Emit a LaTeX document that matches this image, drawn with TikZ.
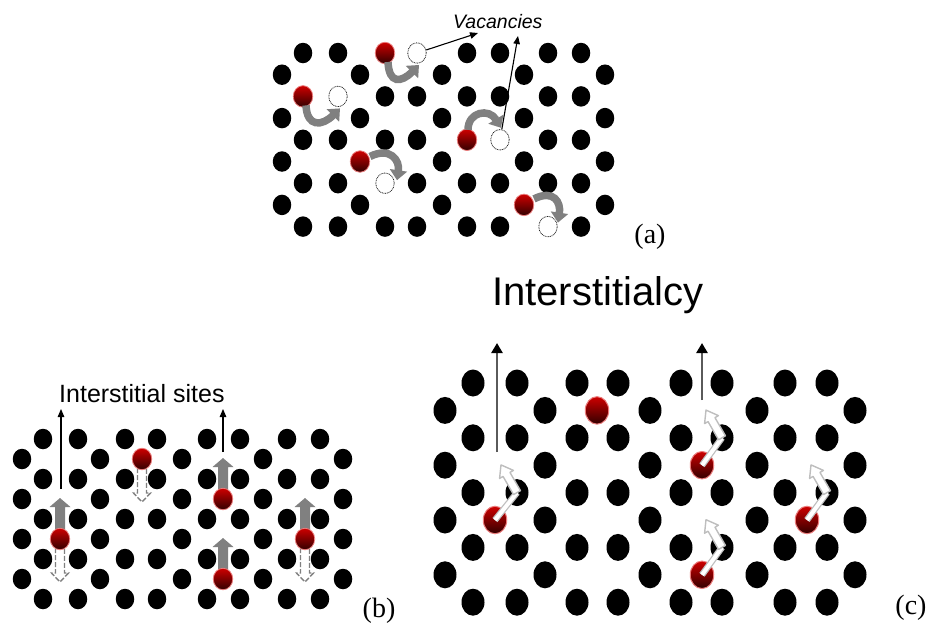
\documentclass[tikz,border=0pt]{standalone}
\usepackage{fontspec}
\setmainfont{Liberation Serif}
\setsansfont{Liberation Sans}
\usetikzlibrary{arrows.meta,calc,shapes.geometric}

\definecolor{shaftgray}{RGB}{128,128,128}
\definecolor{palegray}{RGB}{190,190,190}
\definecolor{leadgray}{RGB}{90,90,90}
\definecolor{redlight}{RGB}{205,0,0}
\definecolor{redmid}{RGB}{160,0,0}
\definecolor{reddark}{RGB}{50,0,0}
\definecolor{redrim}{RGB}{235,125,125}

% lattice sites of (a) taken by a moving atom or left empty
\pgfkeyssetvalue{/gapsA/0/385}{}
\pgfkeyssetvalue{/gapsA/0/417}{}
\pgfkeyssetvalue{/gapsA/2/303}{}
\pgfkeyssetvalue{/gapsA/2/338}{}
\pgfkeyssetvalue{/gapsA/4/467}{}
\pgfkeyssetvalue{/gapsA/4/500}{}
\pgfkeyssetvalue{/gapsA/5/360}{}
\pgfkeyssetvalue{/gapsA/6/385}{}
\pgfkeyssetvalue{/gapsA/7/524}{}
\pgfkeyssetvalue{/gapsA/8/548}{}

\tikzset{
  dotA/.style={ellipse, fill=black, minimum width=18.5pt, minimum height=20.5pt, inner sep=0pt},
  dotC/.style={ellipse, fill=black, minimum width=23pt, minimum height=27pt, inner sep=0pt},
  redA/.style={ellipse, inner sep=0pt, minimum width=19.5pt, minimum height=21.5pt,
    top color=redlight, middle color=redmid, bottom color=reddark, draw=redrim, line width=0.8pt},
  redC/.style={ellipse, inner sep=0pt, minimum width=23.5pt, minimum height=27.5pt,
    top color=redlight, middle color=redmid, bottom color=reddark, draw=redrim, line width=1pt},
  vacancy/.style={ellipse, fill=white, draw=black!85, line width=0.8pt,
    dash pattern=on 0.9pt off 0.8pt, minimum width=18.5pt, minimum height=20.5pt, inner sep=0pt},
  hop/.style={draw=shaftgray, line width=7.5pt, -{Triangle[width=17pt 0, length=10pt 0]}},
  pointer/.style={draw=black, line width=1.1pt, -{Triangle[width=6.5pt 0, length=8pt 0]}},
  leader/.style={draw=leadgray, line width=2.6pt, -{Triangle[width=11pt 0, length=10pt 0, color=black]}},
  push/.pic={\fill[shaftgray] (-5,0) -- (-5,-32) -- (-10.5,-32) -- (0,-41) -- (10.5,-32) -- (5,-32) -- (5,0) -- cycle;},
  fall/.pic={\draw[shaftgray, fill=white, line width=1.4pt, dash pattern=on 5pt off 2pt]
    (-4.5,9) -- (-4.5,34) -- (-8.5,34) -- (0,43) -- (8.5,34) -- (4.5,34) -- (4.5,9);},
  kick/.pic={\filldraw[fill=white, draw=palegray, line width=1.4pt, line join=round]
    (-4,0) -- (-4,-21) -- (-8,-21) -- (0,-32) -- (8,-21) -- (4,-21) -- (4,0) -- cycle;},
  panel/.style={font=\fontsize{28}{32}\selectfont, inner sep=0pt},
}

\begin{document}
\begin{tikzpicture}[x=1pt, y=-1pt]
\path[use as bounding box] (0,0) rectangle (927,625);

% ---------------- (a) vacancy mechanism ----------------
\foreach \j in {0,...,8}{
  \pgfmathsetmacro\yy{53+21.7*\j}
  \ifodd\j \def\xs{282,360,442,524,605}\else\def\xs{303,338,385,417,467,500,548,581}\fi
  \foreach \x in \xs {\pgfkeysifdefined{/gapsA/\j/\x}{}{\node[dotA] (a\j-\x) at (\x,\yy) {};}}
}
\node[vacancy] (v1) at (417,53) {};
\node[vacancy] (v2) at (338,96.4) {};
\node[vacancy] (v3) at (500,139.8) {};
\node[vacancy] (v4) at (385,183.2) {};
\node[vacancy] (v5) at (548,226.6) {};
\node[redA] (r1) at (385,53) {};
\node[redA] (r2) at (303,96.4) {};
\node[redA] (r3) at (467,139.8) {};
\node[redA] (r4) at (360,161.5) {};
\node[redA] (r5) at (524,204.9) {};

\draw[hop] ([shift={(3,9)}]r1.center) .. controls +(1,22) and +(-18,18) .. ([shift={(2,12)}]v1.center);
\draw[hop] ([shift={(3,9)}]r2.center) .. controls +(1,22) and +(-18,18) .. ([shift={(2,12)}]v2.center);
\draw[hop] ([shift={(1,-10)}]r3.center) .. controls +(0,-18) and +(-12,-20) .. ([shift={(1,-12)}]v3.center);
\draw[hop] ([shift={(10,-5)}]r4.center) .. controls +(20,-10) and +(3,-20) .. ([shift={(12,-3)}]v4.center);
\draw[hop] ([shift={(10,-6)}]r5.center) .. controls +(20,-10) and +(3,-20) .. ([shift={(10,-4)}]v5.center);

\node[anchor=base west, inner sep=0pt, font=\sffamily\itshape\fontsize{19.5}{22}\selectfont] (vac) at (453,28) {Vacancies};
\coordinate (vt1) at (478,33);
\coordinate (vt2) at (518,36);
\draw[pointer] (v1) -- (vt1);
\draw[pointer] (v3) -- (vt2);
\node[panel] (la) at (650,237) {(a)};

% ---------------- (b) interstitial mechanism ----------------
\foreach \j in {0,...,8}{
  \pgfmathsetmacro\yy{439+20*\j}
  \ifodd\j \def\xs{22,100,182,263,343}\else\def\xs{43,78,125,157,207,240,287,320}\fi
  \foreach \x in \xs {\node[dotA] (b\j-\x) at (\x,\yy) {};}
}
\coordinate (i1) at (142,459);
\coordinate (i2) at (223,499);
\coordinate (i3) at (60,539);
\coordinate (i4) at (305,539);
\coordinate (i5) at (223,579);
\foreach \p in {i2,i3,i4,i5} {\pic at (\p) {push};}
\foreach \p in {i1,i3,i4} {\pic at (\p) {fall};}
\foreach \p/\n in {i1/q1,i2/q2,i3/q3,i4/q4,i5/q5} {\node[redA] (\n) at (\p) {};}

\node[anchor=base west, inner sep=0pt, font=\sffamily\fontsize{25}{28}\selectfont] (sites) at (59,402) {Interstitial sites};
\coordinate (s1) at (61,489);
\coordinate (s1t) at (61,409);
\coordinate (s2) at (223,452);
\coordinate (s2t) at (223,409);
\draw[pointer] (s1) -- (s1t);
\draw[pointer] (s2) -- (s2t);
\node[panel] (lb) at (379,611) {(b)};

% ---------------- (c) interstitialcy mechanism ----------------
\node[anchor=base west, inner sep=0pt, font=\sffamily\fontsize{40}{44}\selectfont] (title) at (492,305) {Interstitialcy};
\foreach \j in {0,...,8}{
  \pgfmathsetmacro\yy{383+27.4*\j}
  \ifodd\j \def\xs{445,545,650,757,855}\else\def\xs{473,517,577,618,681,722,785,827}\fi
  \foreach \x in \xs {\node[dotC] (c\j-\x) at (\x,\yy) {};}
}
\node[redC] (k1) at (597,410.4) {};
\node[redC] (k2) at (702,465.2) {};
\node[redC] (k3) at (495,520) {};
\node[redC] (k4) at (807,520) {};
\node[redC] (k5) at (702,574.8) {};
\foreach \k/\t in {k2/c2-722, k3/c4-517, k4/c4-827, k5/c6-722}{
  \draw[palegray, line width=6.5pt] (\k.center) -- (\t.center);
  \draw[white, line width=4pt] (\k.center) -- (\t.center);
  \pic[rotate=30] at (\t) {kick};
}
\coordinate (u1) at (497,452);
\coordinate (u1t) at (497,343);
\coordinate (u2) at (702,400);
\coordinate (u2t) at (702,343);
\draw[leader] (u1) -- (u1t);
\draw[leader] (u2) -- (u2t);
\node[panel] (lc) at (911,608) {(c)};
\end{tikzpicture}
\end{document}
